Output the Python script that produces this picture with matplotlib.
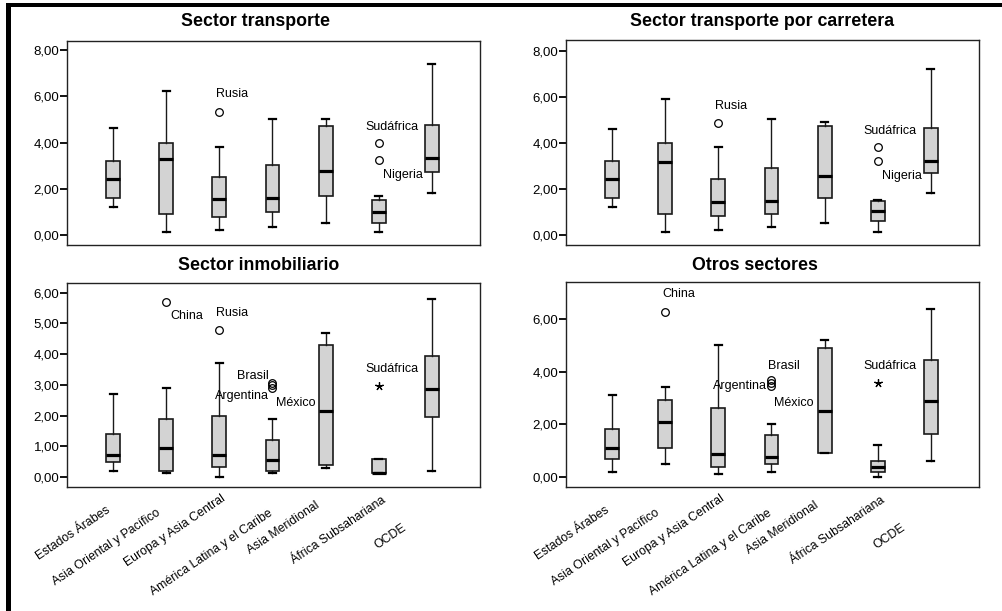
import matplotlib
matplotlib.use("Agg")
import matplotlib.pyplot as plt
from matplotlib.patches import Rectangle

plt.rcParams['font.family'] = ['Liberation Sans', 'DejaVu Sans']

categories = ['Estados Árabes', 'Asia Oriental y Pacífico', 'Europa y Asia Central',
              'América Latina y el Caribe', 'Asia Meridional', 'África Subsahariana', 'OCDE']

# Panel 1: Sector transporte
t1_title = 'Sector transporte'
t1_whislo = [1.21, 0.12, 0.22, 0.33, 0.53, 0.12, 1.82]
t1_q1 = [1.61, 0.91, 0.79, 1.01, 1.70, 0.50, 2.72]
t1_med = [2.41, 3.30, 1.56, 1.61, 2.77, 0.98, 3.32]
t1_q3 = [3.21, 3.99, 2.49, 3.01, 4.73, 1.51, 4.76]
t1_whishi = [4.61, 6.22, 3.82, 5.00, 5.00, 1.70, 7.38]
t1_out_cat = [3, 6, 6]
t1_out_val = [5.33, 3.96, 3.24]
t1_out_name = ['Rusia', 'Sudáfrica', 'Nigeria']
t1_out_kind = ['o', 'o', 'o']

# Panel 2: Sector transporte por carretera
t2_title = 'Sector transporte por carretera'
t2_whislo = [1.21, 0.12, 0.22, 0.33, 0.52, 0.12, 1.82]
t2_q1 = [1.60, 0.91, 0.81, 0.91, 1.62, 0.61, 2.68]
t2_med = [2.41, 3.15, 1.43, 1.49, 2.57, 1.03, 3.22]
t2_q3 = [3.22, 4.00, 2.41, 2.92, 4.73, 1.48, 4.66]
t2_whishi = [4.62, 5.90, 3.83, 5.02, 4.92, 1.53, 7.22]
t2_out_cat = [3, 6, 6]
t2_out_val = [4.87, 3.80, 3.21]
t2_out_name = ['Rusia', 'Sudáfrica', 'Nigeria']
t2_out_kind = ['o', 'o', 'o']

# Panel 3: Sector inmobiliario
t3_title = 'Sector inmobiliario'
t3_whislo = [0.20, 0.12, 0.00, 0.12, 0.30, 0.12, 0.20]
t3_q1 = [0.49, 0.19, 0.34, 0.20, 0.39, 0.12, 1.96]
t3_med = [0.71, 0.95, 0.71, 0.55, 2.15, 0.12, 2.85]
t3_q3 = [1.40, 1.90, 2.00, 1.19, 4.30, 0.60, 3.94]
t3_whishi = [2.70, 2.90, 3.70, 1.90, 4.70, 0.60, 5.79]
t3_out_cat = [2, 3, 4, 4, 4, 6]
t3_out_val = [5.71, 4.79, 3.07, 2.98, 2.90, 2.97]
t3_out_name = ['China', 'Rusia', 'Brasil', 'Argentina', 'México', 'Sudáfrica']
t3_out_kind = ['o', 'o', 'o', 'o', 'o', '*']

# Panel 4: Otros sectores
t4_title = 'Otros sectores'
t4_whislo = [0.20, 0.51, 0.10, 0.20, 0.90, 0.00, 0.61]
t4_q1 = [0.70, 1.09, 0.39, 0.49, 0.90, 0.18, 1.65]
t4_med = [1.12, 2.10, 0.86, 0.77, 2.51, 0.39, 2.90]
t4_q3 = [1.81, 2.92, 2.61, 1.61, 4.91, 0.61, 4.45]
t4_whishi = [3.11, 3.41, 5.01, 2.00, 5.21, 1.21, 6.40]
t4_out_cat = [2, 4, 4, 4, 6]
t4_out_val = [6.29, 3.68, 3.58, 3.48, 3.57]
t4_out_name = ['China', 'Brasil', 'Argentina', 'México', 'Sudáfrica']
t4_out_kind = ['o', 'o', 'o', 'o', '*']

yticks_top = [0, 2, 4, 6, 8]
yticks_inm = [0, 1, 2, 3, 4, 5, 6]
yticks_otros = [0, 2, 4, 6]

# ---- styling / layout ----
W, H = 1002, 611
fig = plt.figure(figsize=(W / 100, H / 100), dpi=100)
fig.patch.set_facecolor('white')

def fx(px):
    return px / W

def fy(py):
    return 1 - py / H

PX = 0.72  # points per pixel at 100 dpi

# label offsets (pixels): (dx, dy_up, ha)
lab_off = {
    1: [(-3, 18, 'left'), (-13, 16, 'left'), (4, -15, 'left')],
    2: [(-3, 17, 'left'), (-14, 16, 'left'), (4, -15, 'left')],
    3: [(4, -14, 'left'), (-3, 17, 'left'), (-4, 7, 'right'), (-4, -11, 'right'),
        (4, -15, 'left'), (-13, 17, 'left')],
    4: [(-3, 18, 'left'), (-3, 14, 'left'), (-5, -3, 'right'), (3, -17, 'left'),
        (-14, 17, 'left')],
}
xlab_dx = [-4, -7, 5, -1, -7, 6, -27]
xlab_dy = [22, 25, 10, 25, 17, 12, 40]

panels = [
    dict(n=1, title=t1_title, lo=t1_whislo, q1=t1_q1, med=t1_med, q3=t1_q3, hi=t1_whishi,
         oc=t1_out_cat, ov=t1_out_val, on=t1_out_name, ok=t1_out_kind,
         box=(67, 41, 480, 245), ylim=(-0.432, 8.39), yt=yticks_top, tx=256, ty=21, xl=False),
    dict(n=2, title=t2_title, lo=t2_whislo, q1=t2_q1, med=t2_med, q3=t2_q3, hi=t2_whishi,
         oc=t2_out_cat, ov=t2_out_val, on=t2_out_name, ok=t2_out_kind,
         box=(566, 40, 979, 245), ylim=(-0.434, 8.46), yt=yticks_top, tx=762, ty=21, xl=False),
    dict(n=3, title=t3_title, lo=t3_whislo, q1=t3_q1, med=t3_med, q3=t3_q3, hi=t3_whishi,
         oc=t3_out_cat, ov=t3_out_val, on=t3_out_name, ok=t3_out_kind,
         box=(67, 283, 480, 487), ylim=(-0.326, 6.315), yt=yticks_inm, tx=259, ty=265, xl=True),
    dict(n=4, title=t4_title, lo=t4_whislo, q1=t4_q1, med=t4_med, q3=t4_q3, hi=t4_whishi,
         oc=t4_out_cat, ov=t4_out_val, on=t4_out_name, ok=t4_out_kind,
         box=(566, 282, 979, 487), ylim=(-0.38, 7.42), yt=yticks_otros, tx=755, ty=265, xl=True),
]

for p in panels:
    l, t, r, b = p['box']
    ax = fig.add_axes([fx(l), fy(b), fx(r - l), (b - t) / H])
    stats = []
    for i in range(len(categories)):
        stats.append(dict(med=p['med'][i], q1=p['q1'][i], q3=p['q3'][i],
                          whislo=p['lo'][i], whishi=p['hi'][i], fliers=[]))
    ax.bxp(stats, positions=list(range(1, len(categories) + 1)), widths=0.26,
           patch_artist=True, showfliers=False, capwidths=0.13,
           boxprops=dict(facecolor='#d3d3d3', edgecolor='#1a1a1a', linewidth=1.2),
           medianprops=dict(color='black', linewidth=2.3, solid_capstyle='butt'),
           whiskerprops=dict(color='#1a1a1a', linewidth=1.0),
           capprops=dict(color='black', linewidth=1.6))
    for j, (c, v, name, kind) in enumerate(zip(p['oc'], p['ov'], p['on'], p['ok'])):
        if kind == 'o':
            ax.plot([c], [v], marker='o', ms=5.5, mfc='none', mec='black', mew=0.9,
                    linestyle='none', zorder=5)
        else:
            ax.plot([c], [v], marker=(5, 2, 0), ms=6, mec='black', mew=0.9,
                    linestyle='none', zorder=5)
        dx, dy, ha = lab_off[p['n']][j]
        ax.annotate(name, xy=(c, v), xytext=(dx * PX, dy * PX), textcoords='offset points',
                    ha=ha, va='center', fontsize=9, color='black', zorder=6)
    ax.set_xlim(0.133, 7.905)
    ax.set_ylim(*p['ylim'])
    ax.set_yticks(p['yt'])
    ax.set_yticklabels([('%.2f' % v).replace('.', ',') for v in p['yt']], fontsize=9.5)
    ax.tick_params(axis='y', direction='out', length=5, width=1.3, pad=0.5, colors='black')
    ax.set_xticks([])
    for s in ax.spines.values():
        s.set_color('#222222')
        s.set_linewidth(1.0)
    if p['xl']:
        for i, cat in enumerate(categories):
            ax.annotate(cat, xy=(i + 1, 0), xycoords=('data', 'axes fraction'),
                        xytext=(xlab_dx[i] * PX, -xlab_dy[i] * PX), textcoords='offset points',
                        rotation=34, rotation_mode='anchor', ha='right', va='center',
                        fontsize=8.8, annotation_clip=False)
    fig.text(fx(p['tx']), fy(p['ty']), p['title'], ha='center', va='center',
             fontsize=12.8, fontweight='bold')

# frame bars (left and top)
fig.add_artist(Rectangle((fx(6), fy(7.3)), 1, 4.3 / H, transform=fig.transFigure,
                         facecolor='black', edgecolor='none'))
fig.add_artist(Rectangle((fx(6), 0), 4.6 / W, fy(3), transform=fig.transFigure,
                         facecolor='black', edgecolor='none'))

fig.savefig('out.png', dpi=100, facecolor='white')
